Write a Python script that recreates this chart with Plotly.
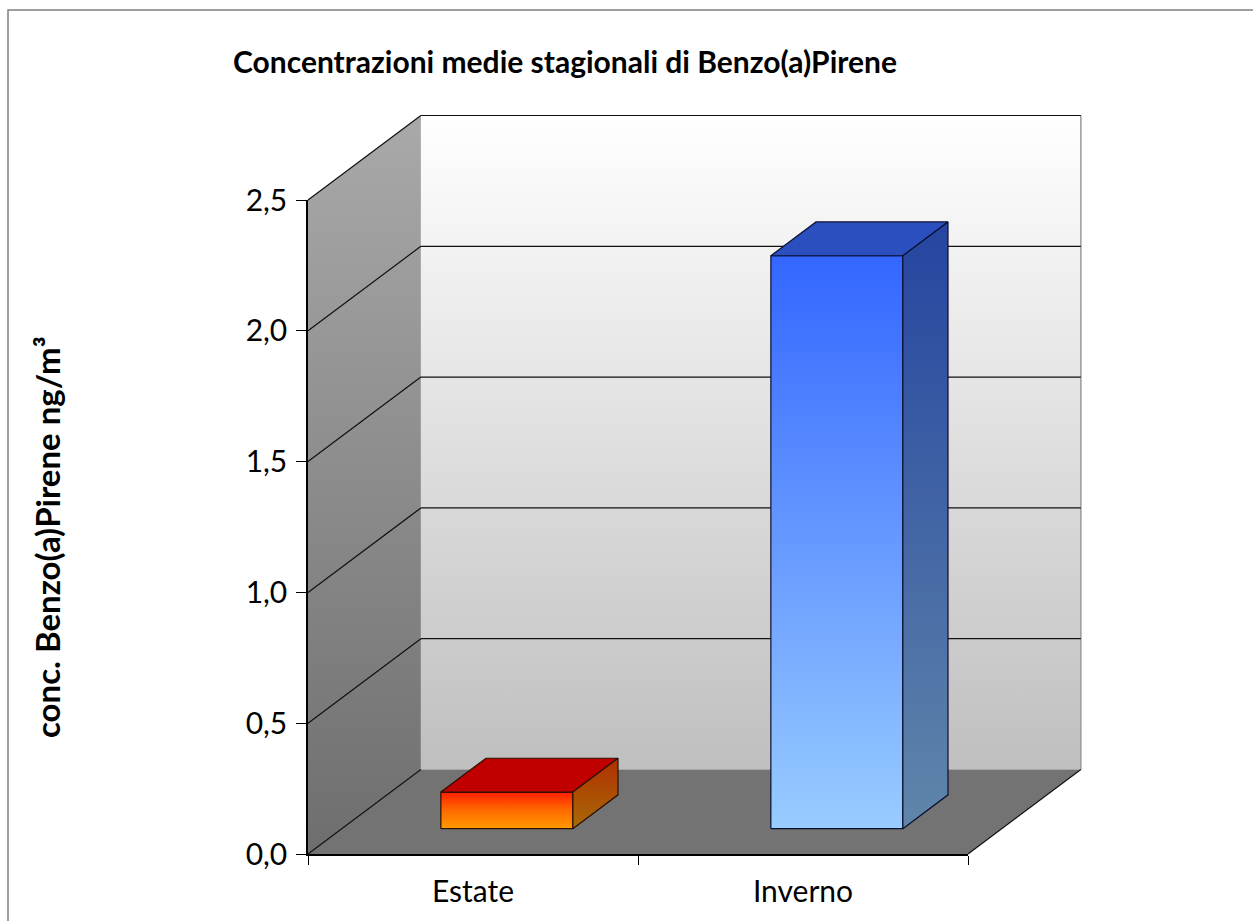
import plotly.graph_objects as go

# ---------------- data ----------------
categories = ["Estate", "Inverno"]
values = [0.14, 2.19]
y_ticks = [0.0, 0.5, 1.0, 1.5, 2.0, 2.5]
y_max = 2.5
title_text = "Concentrazioni medie stagionali di Benzo(a)Pirene"
y_title = "conc. Benzo(a)Pirene ng/m³"

# ---------------- geometry / style ----------------
W_PX, H_PX = 1253, 921
X0_PX, X1_PX = 308, 968      # front axis pixel extents
Y0_PX, Y1_PX = 854, 200      # value 0 and value y_max (pixels)
DX = 0.342                   # depth offset (category units)
DY = 0.323                   # depth offset (value units)
BAR_W = 0.4
Z0, Z1 = 0.3, 0.7            # bar depth span
FONT = "Lato"

unit_x = (X1_PX - X0_PX) / len(categories)
unit_y = (Y0_PX - Y1_PX) / y_max
x_range = [-0.5 - X0_PX / unit_x, -0.5 + (W_PX - X0_PX) / unit_x]
y_range = [-(H_PX - Y0_PX) / unit_y, Y0_PX / unit_y]
XL, XR = -0.5, len(categories) - 0.5


def P(x, y, z):
    return x + z * DX, y + z * DY


def poly(pts, fill=None, grad=None, line="rgba(0,0,0,0)", lw=0):
    xs, ys = zip(*[P(*p) for p in pts])
    xs = list(xs) + [xs[0]]
    ys = list(ys) + [ys[0]]
    kw = dict(x=xs, y=ys, mode="lines", fill="toself",
              line=dict(color=line, width=lw), hoverinfo="skip",
              showlegend=False, xaxis="x", yaxis="y")
    if grad is not None:
        kw["fillgradient"] = dict(type="vertical", colorscale=grad)
    else:
        kw["fillcolor"] = fill
    return go.Scatter(**kw)


def lines(segs, color="#111111", width=1.2):
    xs, ys = [], []
    for a, b in segs:
        pa, pb = P(*a), P(*b)
        xs += [pa[0], pb[0], None]
        ys += [pa[1], pb[1], None]
    return go.Scatter(x=xs, y=ys, mode="lines", line=dict(color=color, width=width),
                      hoverinfo="skip", showlegend=False, xaxis="x", yaxis="y")


traces = []
# back wall
traces.append(poly([(XL, 0, 1), (XR, 0, 1), (XR, y_max, 1), (XL, y_max, 1)],
                   grad=[[0, "#BFBFBF"], [1, "#FFFFFF"]]))
# left side wall
traces.append(poly([(XL, 0, 0), (XL, 0, 1), (XL, y_max, 1), (XL, y_max, 0)],
                   grad=[[0, "#6E6E6E"], [1, "#A9A9A9"]]))
# floor
traces.append(poly([(XL, 0, 0), (XR, 0, 0), (XR, 0, 1), (XL, 0, 1)], fill="#737373"))
# right edge of back wall
traces.append(lines([((XR, 0, 1), (XR, y_max, 1))], color="#9A9A9A", width=1.5))
# gridlines
segs = []
for t in y_ticks:
    segs.append(((XL, t, 0), (XL, t, 1)))
    if t > 0:
        segs.append(((XL, t, 1), (XR, t, 1)))
segs.append(((XR, 0, 0), (XR, 0, 1)))
traces.append(lines(segs))

# bars
bar_styles = [
    dict(front=[[0, "#FF9A00"], [0.5, "#FF6A00"], [1, "#FF1E00"]],
         top="#C00000",
         side=[[0, "#A86A08"], [1, "#B03000"]],
         edge="#2A1000"),
    dict(front=[[0, "#99CCFF"], [1, "#3366FF"]],
         top="#2B4FBF",
         side=[[0, "#6086AA"], [1, "#2545A0"]],
         edge="#0A1030"),
]
for i, (cat, v) in enumerate(zip(categories, values)):
    st = bar_styles[i]
    xl, xr = i - BAR_W / 2, i + BAR_W / 2
    traces.append(poly([(xl, 0, Z0), (xr, 0, Z0), (xr, v, Z0), (xl, v, Z0)],
                       grad=st["front"], line=st["edge"], lw=1.2))
    traces.append(poly([(xl, v, Z0), (xr, v, Z0), (xr, v, Z1), (xl, v, Z1)],
                       fill=st["top"], line=st["edge"], lw=1.2))
    traces.append(poly([(xr, 0, Z0), (xr, 0, Z1), (xr, v, Z1), (xr, v, Z0)],
                       grad=st["side"], line=st["edge"], lw=1.2))

# invisible trace for visible category/value axes
traces.append(go.Scatter(x=categories, y=values, mode="markers",
                         marker=dict(opacity=0), hoverinfo="skip",
                         showlegend=False, xaxis="x2", yaxis="y2"))

fig = go.Figure(traces)
fig.update_layout(
    width=W_PX, height=H_PX,
    margin=dict(l=0, r=0, t=0, b=0, pad=0, autoexpand=False),
    paper_bgcolor="white", plot_bgcolor="rgba(0,0,0,0)",
    separators=",.",
    showlegend=False,
    xaxis=dict(domain=[0, 1], range=x_range, visible=False, fixedrange=True,
               automargin=False),
    yaxis=dict(domain=[0, 1], range=y_range, visible=False, fixedrange=True,
               automargin=False),
    xaxis2=dict(domain=[X0_PX / W_PX, X1_PX / W_PX], anchor="y2", type="category",
                categoryorder="array", categoryarray=categories,
                range=[-0.5, len(categories) - 0.5], automargin=False,
                showline=True, linecolor="#000000", linewidth=1.5,
                ticks="outside", ticklen=9, tickcolor="#000000", tickwidth=1,
                tickson="boundaries", showgrid=False, zeroline=False,
                tickfont=dict(family=FONT, size=30, color="#000000"),
                ticklabelstandoff=10),
    yaxis2=dict(domain=[1 - Y0_PX / H_PX, 1 - Y1_PX / H_PX], anchor="x2",
                range=[0, y_max], tickvals=y_ticks, tickformat=".1f",
                automargin=False,
                showline=True, linecolor="#000000", linewidth=1.5,
                ticks="outside", ticklen=10, tickcolor="#000000", tickwidth=1,
                showgrid=False, zeroline=False,
                tickfont=dict(family=FONT, size=30, color="#000000"),
                ticklabelstandoff=3),
    title=dict(text="<b>" + title_text + "</b>", xref="paper", yref="paper",
               x=233 / W_PX, xanchor="left", y=1 - 62 / H_PX, yanchor="middle",
               automargin=False,
               font=dict(family=FONT, size=30, color="#000000")),
    annotations=[dict(text="<b>" + y_title + "</b>", xref="paper", yref="paper",
                      x=47 / W_PX, y=1 - 537 / H_PX, textangle=-90,
                      showarrow=False, xanchor="center", yanchor="middle",
                      font=dict(family=FONT, size=33, color="#000000"))],
    shapes=[dict(type="rect", xref="paper", yref="paper",
                 x0=8 / W_PX, y0=-0.05, x1=1.05, y1=1 - 10 / H_PX,
                 line=dict(color="#7F7F7F", width=1.5), fillcolor="rgba(0,0,0,0)",
                 layer="above")],
)
fig.write_html("out.html")
